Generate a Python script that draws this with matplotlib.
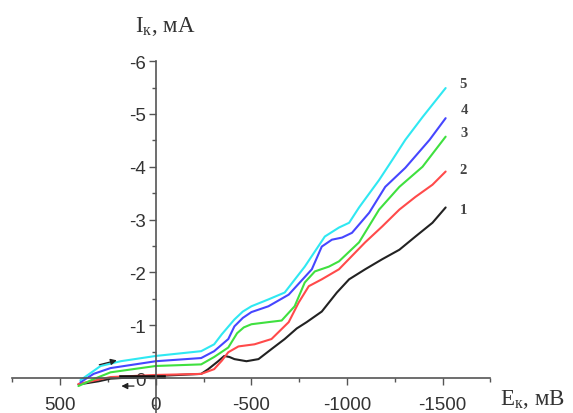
import matplotlib
matplotlib.use("Agg")
import matplotlib.pyplot as plt
from matplotlib.ticker import MultipleLocator

# potential E (mV) and current I (mA), one pair of lists per curve
E1 = [405, 300, 237, 100, 0, -237, -274, -326, -358, -385, -411, -474, -537, -605, -674,
      -737, -789, -868, -947, -1011, -1095, -1184, -1274, -1358, -1447, -1516]
I1 = [0.12, 0.06, 0.01, -0.02, -0.04, -0.08, -0.17, -0.32, -0.42, -0.40, -0.36, -0.32,
      -0.36, -0.55, -0.74, -0.94, -1.06, -1.26, -1.62, -1.87, -2.06, -2.25, -2.43,
      -2.68, -2.94, -3.23]

E2 = [405, 237, 0, -237, -305, -345, -379, -432, -516, -605, -695, -747, -800, -868,
      -958, -1095, -1184, -1274, -1358, -1447, -1516]
I2 = [0.11, -0.02, -0.06, -0.08, -0.17, -0.33, -0.49, -0.60, -0.64, -0.74, -1.06,
      -1.43, -1.74, -1.87, -2.06, -2.57, -2.87, -3.19, -3.43, -3.66, -3.91]

E3 = [405, 326, 237, 0, -237, -305, -379, -425, -460, -500, -589, -658, -726, -779,
      -832, -905, -958, -1063, -1168, -1274, -1395, -1516]
I3 = [0.15, 0.02, -0.11, -0.23, -0.26, -0.40, -0.58, -0.85, -0.96, -1.02, -1.06,
      -1.09, -1.36, -1.81, -2.02, -2.11, -2.21, -2.57, -3.19, -3.62, -4.00, -4.57]

E4 = [395, 326, 237, 0, -237, -305, -379, -411, -455, -500, -589, -695, -816, -868,
      -921, -974, -1026, -1116, -1200, -1305, -1432, -1516]
I4 = [0.08, -0.08, -0.19, -0.32, -0.38, -0.51, -0.74, -0.98, -1.14, -1.25, -1.36,
      -1.58, -2.06, -2.49, -2.62, -2.66, -2.75, -3.13, -3.62, -3.98, -4.51, -4.92]

E5 = [395, 289, 184, 0, -237, -305, -345, -411, -455, -500, -589, -674, -779, -884,
      -958, -1011, -1063, -1168, -1237, -1305, -1395, -1516]
I5 = [0.04, -0.23, -0.32, -0.42, -0.51, -0.64, -0.83, -1.11, -1.26, -1.36, -1.49,
      -1.62, -2.11, -2.68, -2.85, -2.94, -3.23, -3.75, -4.13, -4.51, -4.94, -5.49]

# reverse-sweep piece of curve 1 lying on the axis
E1_back = [180, -45]
I1_back = [-0.02, -0.02]

curve_names = ["1", "2", "3", "4", "5"]
label_E = [-1590, -1590, -1595, -1595, -1590]
label_I = [-3.19, -3.94, -4.64, -5.09, -5.58]

x_ticks = [500, 0, -500, -1000, -1500]
y_ticks = [-6, -5, -4, -3, -2, -1, 0]

COLORS = ["#222222", "#ff4a4a", "#3fe03f", "#4646ff", "#2fe8f2"]
AXC = "#555555"

fig = plt.figure(figsize=(5.73, 4.14), dpi=100)
ax = fig.add_axes([0.0218, 0.0, 0.834, 0.850])

for E, I, c in zip([E1, E2, E3, E4, E5], [I1, I2, I3, I4, I5], COLORS):
    ax.plot(E, I, color=c, lw=1.5, solid_capstyle="round", solid_joinstyle="round")
ax.plot(E1_back, I1_back, color="#111111", lw=2.6)

for n, xe, yi in zip(curve_names, label_E, label_I):
    ax.text(xe, yi, n, fontsize=10.5, fontweight="bold", color="#444444",
            family="Liberation Serif", ha="left", va="center")

# sweep direction arrows
ax.annotate("", xy=(190, -0.35), xytext=(310, -0.24),
            arrowprops=dict(arrowstyle="-|>", color="#222222", lw=0.9,
                            mutation_scale=9))
ax.annotate("", xy=(195, 0.15), xytext=(100, 0.15),
            arrowprops=dict(arrowstyle="-|>", color="#222222", lw=0.9,
                            mutation_scale=9))

ax.set_xlim(750, -1750)
ax.set_ylim(0.66, -6)

for s in ("top", "right"):
    ax.spines[s].set_visible(False)
ax.spines["left"].set_position(("data", 0))
ax.spines["bottom"].set_position(("data", 0))
for s in ("left", "bottom"):
    ax.spines[s].set_color(AXC)
    ax.spines[s].set_linewidth(1.2)
ax.patch.set_alpha(0)

ax.set_xticks(x_ticks)
ax.set_xticklabels([str(v) for v in x_ticks])
ax.set_yticks(y_ticks)
ax.set_yticklabels([str(v) for v in y_ticks])
ax.xaxis.set_minor_locator(MultipleLocator(250))
ax.yaxis.set_minor_locator(MultipleLocator(0.5))
ax.tick_params(axis="both", which="major", length=5, width=1, color=AXC,
               labelsize=13.5, labelcolor="#333333")
ax.tick_params(axis="both", which="minor", length=3, width=1, color=AXC)
ax.tick_params(axis="x", which="both", direction="out", pad=8)
ax.tick_params(axis="y", which="both", direction="out", pad=2)
for lab in ax.get_xticklabels() + ax.get_yticklabels():
    lab.set_family("Liberation Sans")

fig.text(135 / 573, 1 - 27 / 414, r"I$_{\mathregular{к}}$, мА", fontsize=16.5,
         family="Liberation Serif", color="#333333", ha="left", va="center")
fig.text(500 / 573, 1 - 400 / 414, r"E$_{\mathregular{к}}$, мВ", fontsize=16.5,
         family="Liberation Serif", color="#333333", ha="left", va="center")

fig.savefig("out.png", dpi=100)
